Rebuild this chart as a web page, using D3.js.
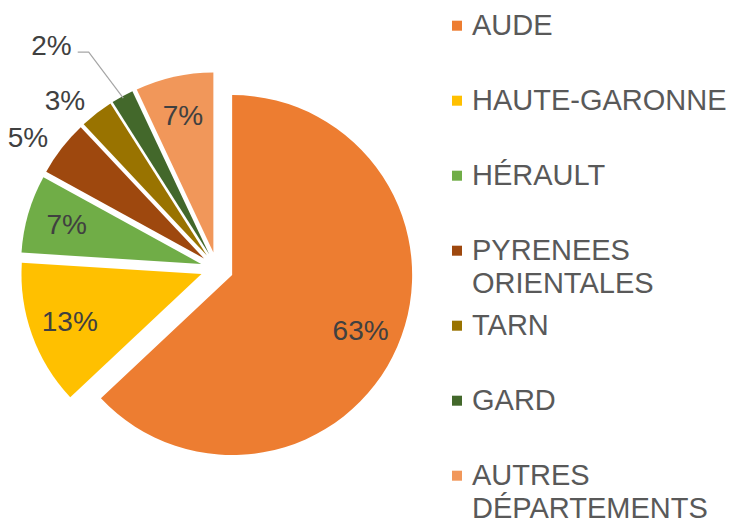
<!DOCTYPE html>
<html>
<head>
<meta charset="utf-8">
<script src="https://cdn.jsdelivr.net/npm/d3@7"></script>
<style>
  html, body { margin: 0; padding: 0; background: #fff; }
  svg { display: block; font-family: "Liberation Sans", Arial, sans-serif; }
</style>
</head>
<body>
<svg id="chart" width="732" height="527"></svg>
<script>
'use strict'

// departements, in pie order (clockwise from 12 o'clock)
const CATEGORIES = ['AUDE', 'HAUTE-GARONNE', 'HÉRAULT', 'PYRENEES ORIENTALES', 'TARN', 'GARD', 'AUTRES DÉPARTEMENTS'];
const VALUES = [63, 13, 7, 5, 3, 2, 7];
const COLORS = ['#ED7D31', '#FFC000', '#70AD47', '#9E480E', '#997300', '#43682B', '#F1975A'];
// legend text, wrapped like the original
const LEGEND_LINES = [['AUDE'], ['HAUTE-GARONNE'], ['HÉRAULT'], ['PYRENEES', 'ORIENTALES'], ['TARN'], ['GARD'], ['AUTRES', 'DÉPARTEMENTS']];

var width = 732;
var height = 527;

var cx = 217;
var cy = 268.5;
var radius = 180;
var explode = 16.5;

var svg = d3.select('#chart');

var total = d3.sum(VALUES);
var formatPct = function(v) { return Math.round(v / total * 100) + '%'; };

var pie = d3.pie()
	.sort(null)
	.value(function(d) { return d; });

var arc = d3.arc()
	.innerRadius(0)
	.outerRadius(radius);

var arcs = pie(VALUES);

function midAngle(d) { return (d.startAngle + d.endAngle) / 2; }
function polar(a, r) { return [Math.sin(a) * r, -Math.cos(a) * r]; }

var g = svg.append('g')
	.attr('transform', 'translate(' + cx + ',' + cy + ')');

var slice = g.selectAll('.slice')
	.data(arcs)
	.enter()
	.append('g')
	.attr('class', 'slice')
	.attr('transform', function(d) {
		var p = polar(midAngle(d), explode);
		return 'translate(' + p[0] + ',' + p[1] + ')';
	});

slice.append('path')
	.attr('d', arc)
	.style('fill', function(d, i) { return COLORS[i]; });

// labels: big slices inside, small ones outside, tiny ones with a leader line
var labelSize = 28;
var labelColor = '#404040';

slice.each(function(d) {
	var el = d3.select(this);
	var a = midAngle(d);
	var pct = d.value / total * 100;
	var txt = formatPct(d.value);

	if (pct >= 6) {
		var p = polar(a, 140);
		el.append('text')
			.attr('x', p[0])
			.attr('y', p[1])
			.attr('text-anchor', 'middle')
			.attr('dominant-baseline', 'central')
			.style('font-size', labelSize + 'px')
			.style('fill', labelColor)
			.text(txt);
	} else if (pct >= 2.5) {
		var q = polar(a, radius + 12);
		el.append('text')
			.attr('x', q[0] - 4)
			.attr('y', q[1] - 3)
			.attr('text-anchor', 'end')
			.attr('dominant-baseline', 'central')
			.style('font-size', labelSize + 'px')
			.style('fill', labelColor)
			.text(txt);
	} else {
		var s = polar(a, radius - 2);
		var e = polar(a - 2 * Math.PI / 180, radius + 55);
		var h = [e[0] - 11, e[1]];
		el.append('polyline')
			.attr('points', [s, e, h].map(function(p) { return p.join(','); }).join(' '))
			.style('fill', 'none')
			.style('stroke', '#A6A6A6')
			.style('stroke-width', 1.2);
		el.append('text')
			.attr('x', h[0] - 6)
			.attr('y', h[1] - 7)
			.attr('text-anchor', 'end')
			.attr('dominant-baseline', 'central')
			.style('font-size', labelSize + 'px')
			.style('fill', labelColor)
			.text(txt);
	}
});

// legend
var legendX = 452;
var legendTop = 35;
var legendStep = 75;
var lineStep = 33;

var legend = svg.append('g')
	.attr('class', 'legend');

var item = legend.selectAll('.item')
	.data(CATEGORIES)
	.enter()
	.append('g')
	.attr('class', 'item')
	.attr('transform', function(d, i) { return 'translate(' + legendX + ',' + (legendTop + i * legendStep) + ')'; });

item.append('rect')
	.attr('x', 0)
	.attr('y', -14.3)
	.attr('width', 10)
	.attr('height', 10)
	.style('fill', function(d, i) { return COLORS[i]; });

item.append('text')
	.attr('x', 20)
	.attr('y', 0)
	.style('font-size', '29px')
	.style('fill', '#595959')
	.selectAll('tspan')
	.data(function(d, i) { return LEGEND_LINES[i]; })
	.enter()
	.append('tspan')
	.attr('x', 20)
	.attr('y', function(d, j) { return j * lineStep; })
	.text(function(d) { return d; });
</script>
</body>
</html>
